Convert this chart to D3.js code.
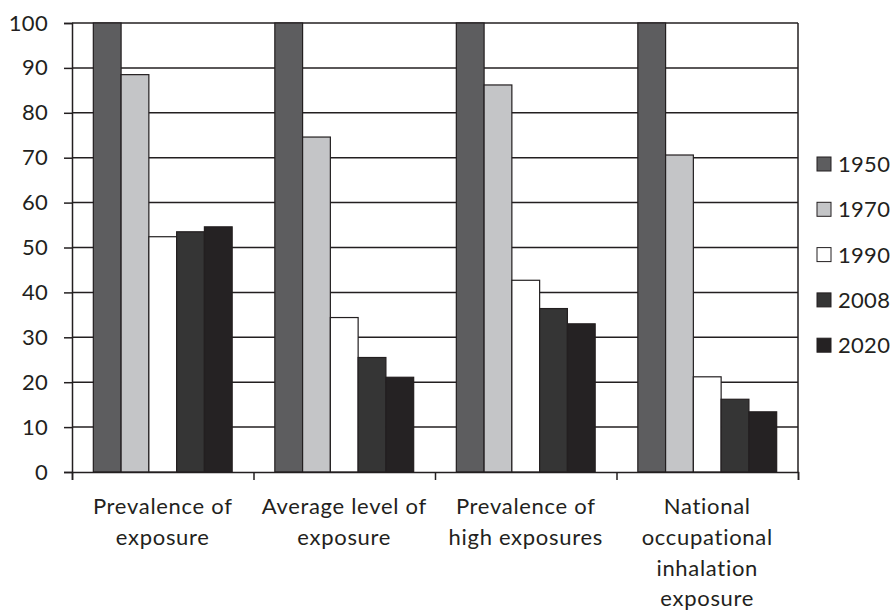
<!DOCTYPE html>
<html><head><meta charset="utf-8">
<script src="https://cdn.jsdelivr.net/npm/d3@7"></script>
<style>body{margin:0;background:#fff}svg text{font-family:Lato,"Open Sans",sans-serif;fill:#231f20}</style>
</head><body><svg id="c" width="892" height="612"></svg>
<script>
const categories = [["Prevalence of","exposure"],["Average level of","exposure"],["Prevalence of","high exposures"],["National","occupational","inhalation","exposure"]];
const seriesNames = ["1950","1970","1990","2008","2020"];
const v1950 = [100,100,100,100];
const v1970 = [88.5,74.6,86.2,70.6];
const v1990 = [52.4,34.4,42.7,21.2];
const v2008 = [53.5,25.5,36.4,16.2];
const v2020 = [54.6,21.1,33.0,13.4];
const yTicks = [0,10,20,30,40,50,60,70,80,90,100];
const colors = ["#5d5d5f","#c4c5c7","#ffffff","#353535","#252223"];
const seriesValues = [v1950,v1970,v1990,v2008,v2020];

const svg = d3.select("#c");
const L=72,R=798,T=23,B=472;
const x = d3.scaleBand().domain(d3.range(categories.length)).range([L,R]).paddingInner(0.235).paddingOuter(0.1175);
const xs = d3.scaleBand().domain(seriesNames).range([0,x.bandwidth()]);
const y = d3.scaleLinear().domain([0,100]).range([B,T]);

// gridlines
svg.append("g").selectAll("line").data(yTicks.filter(d=>d>0)).join("line")
  .attr("x1",L).attr("x2",R).attr("y1",d=>y(d)).attr("y2",d=>y(d))
  .attr("stroke","#231f20").attr("stroke-width",1.5);
svg.append("line").attr("x1",R).attr("x2",R).attr("y1",T).attr("y2",B).attr("stroke","#231f20").attr("stroke-width",1.5);

// bars
seriesNames.forEach((s,i)=>{
  svg.append("g").selectAll("rect").data(seriesValues[i]).join("rect")
    .attr("x",(d,j)=>x(j)+xs(s)).attr("width",xs.bandwidth())
    .attr("y",d=>y(d)).attr("height",d=>B-y(d))
    .attr("fill",colors[i]).attr("stroke","#231f20").attr("stroke-width",1.2);
});

// y axis
const ya = svg.append("g").attr("transform",`translate(${L},0)`)
  .call(d3.axisLeft(y).tickValues(yTicks).tickSize(8).tickPadding(16));
ya.select(".domain").attr("stroke","#231f20").attr("stroke-width",1.5);
ya.selectAll(".tick line").attr("stroke","#231f20").attr("stroke-width",1.5);
ya.selectAll(".tick text").attr("font-size",22).attr("font-family","Lato,'Open Sans',sans-serif").attr("fill","#231f20").attr("letter-spacing",0.3);

// x axis
const xb = d3.scaleLinear().domain([0,categories.length]).range([L,R]);
const xa = svg.append("g").attr("transform",`translate(0,${B})`)
  .call(d3.axisBottom(xb).tickValues(d3.range(categories.length+1)).tickSize(8).tickFormat(""));
xa.select(".domain").attr("stroke","#231f20").attr("stroke-width",1.5);
xa.selectAll(".tick line").attr("stroke","#231f20").attr("stroke-width",1.5);

// category labels
categories.forEach((lines,j)=>{
  const cx = x(j)+x.bandwidth()/2;
  const t = svg.append("text").attr("text-anchor","middle").attr("font-size",22).attr("letter-spacing",0.7)
    .attr("x",cx).attr("y",514);
  lines.forEach((ln,k)=>t.append("tspan").attr("x",cx).attr("dy",k?30.8:0).text(ln));
});

// legend
const lg = svg.append("g").selectAll("g").data(seriesNames).join("g")
  .attr("transform",(d,i)=>`translate(817,${164+i*45.3})`);
lg.append("rect").attr("x",0).attr("y",-7).attr("width",14).attr("height",14)
  .attr("fill",(d,i)=>colors[i]).attr("stroke","#231f20").attr("stroke-width",1);
lg.append("text").attr("x",21).attr("y",8).attr("font-size",22).attr("letter-spacing",0.3).text(d=>d);
</script></body></html>
